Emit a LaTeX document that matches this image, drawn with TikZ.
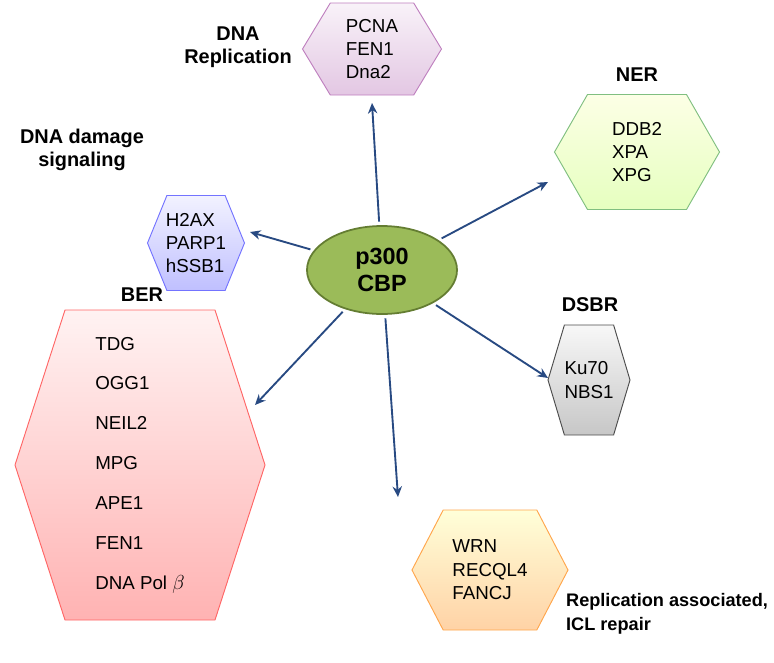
\documentclass[tikz,border=0pt]{standalone}
\usepackage{fontspec}
\setmainfont{Liberation Sans}
\usetikzlibrary{shapes.geometric,arrows.meta}

\definecolor{arrblue}{RGB}{40,74,130}
\definecolor{olivefill}{RGB}{155,187,89}
\definecolor{olivedraw}{RGB}{100,125,50}

% hexagon: name, cx, cy, width, height, style
\newcommand{\hexbox}[6]{%
  \pgfmathsetmacro\hxl{#2-#4/2}\pgfmathsetmacro\hxr{#2+#4/2}%
  \pgfmathsetmacro\hxil{#2-0.3*#4}\pgfmathsetmacro\hxir{#2+0.3*#4}%
  \pgfmathsetmacro\hxt{#3-#5/2}\pgfmathsetmacro\hxb{#3+#5/2}%
  \draw[#6] (\hxl,#3) -- (\hxil,\hxt) -- (\hxir,\hxt) -- (\hxr,#3) -- (\hxir,\hxb) -- (\hxil,\hxb) -- cycle;
  \coordinate (#1) at (#2,#3);}

\tikzset{
  arr/.style={draw=arrblue, line width=1.6pt, -{Stealth[length=9pt,width=8pt]}, shorten <=3pt},
  gene/.style={align=left, font=\fontsize{16}{20}\selectfont},
  title/.style={align=center, font=\fontsize{17}{20}\selectfont\bfseries},
}

\begin{document}
\begin{tikzpicture}[x=0.03cm, y=-0.03cm]
  \useasboundingbox (0,0) rectangle (774,662);

  % hexagons
  \hexbox{rep}{372}{49}{139}{92}{draw=violet!50, line width=0.8pt, top color=violet!5, bottom color=violet!22}
  \hexbox{ner}{637}{152}{165}{115}{draw=green!50!black!50, line width=0.8pt, top color=green!10!yellow!10, bottom color=green!40!yellow!25}
  \hexbox{dds}{196}{243}{97}{95}{draw=blue!55, line width=0.8pt, top color=blue!5, bottom color=blue!25}
  \hexbox{dsb}{589}{380}{82}{110}{draw=black!70, line width=0.8pt, top color=black!3, bottom color=black!22}
  \hexbox{ber}{140}{465}{250}{310}{draw=red!60, line width=0.8pt, top color=red!5, bottom color=red!30}
  \hexbox{icl}{490}{570}{156}{120}{draw=orange!70, line width=0.8pt, top color=yellow!15, bottom color=orange!35}

  % centre
  \node (p300) [ellipse, draw=olivedraw, line width=1.5pt, fill=olivefill,
    minimum width=4.5cm, minimum height=2.64cm, align=center,
    font=\fontsize{20}{23}\selectfont\bfseries] at (382,270) {p300\\CBP};

  % gene lists
  \node (repg) [gene] at (rep) {PCNA\\FEN1\\Dna2};
  \node (nerg) [gene] at (ner) {DDB2\\XPA\\XPG};
  \node (ddsg) [gene] at (dds) {H2AX\\PARP1\\hSSB1};
  \node (dsbg) [gene] at (dsb) {Ku70\\NBS1};
  \node (berg) [gene, font=\fontsize{16}{34}\selectfont] at (ber) {TDG\\OGG1\\NEIL2\\MPG\\APE1\\FEN1\\DNA Pol $\beta$};
  \node (iclg) [gene] at (icl) {WRN\\RECQL4\\FANCJ};

  % titles
  \node (rept) [title] at (238,47) {DNA\\Replication};
  \node (nert) [title] at (637,75) {NER};
  \node (ddst) [title] at (82,150) {DNA damage\\signaling};
  \node (dsbt) [title] at (590,305) {DSBR};
  \node (bert) [title] at (142,295) {BER};
  \node (iclt) [title, align=left, anchor=west, font=\fontsize{15.5}{20}\selectfont\bfseries] at (562,614) {Replication associated,\\ICL repair};

  % arrow heads
  \coordinate (h1) at (372,103);
  \coordinate (h2) at (548,182);
  \coordinate (h3) at (250,232);
  \coordinate (h4) at (548,378);
  \coordinate (h5) at (255,405);
  \coordinate (h6) at (398,497);
  \foreach \h in {h1,h2,h3,h4,h5,h6}
    \draw[arr] (p300) -- (\h);
\end{tikzpicture}
\end{document}
